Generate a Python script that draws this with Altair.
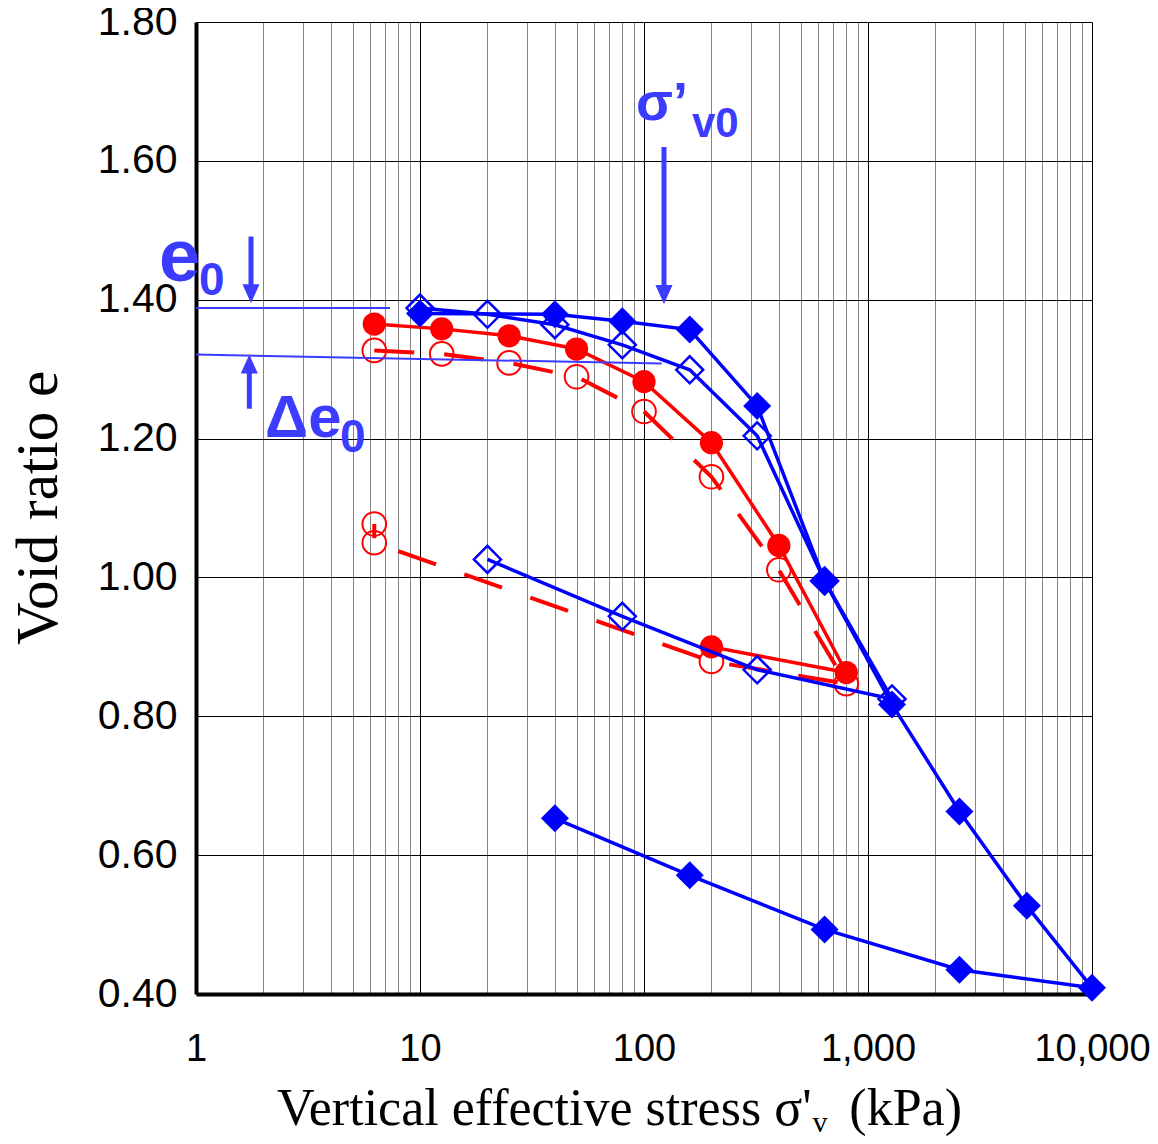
import altair as alt
import pandas as pd

# ---- data ----
# blue filled diamonds (loading then unloading)
sig_fd = [10, 40, 80, 160, 320, 640, 1280, 2560, 5120, 10000, 2560, 640, 160, 40]
e_fd = [1.380, 1.379, 1.369, 1.357, 1.247, 0.995, 0.817, 0.663, 0.527, 0.409, 0.435, 0.493, 0.571, 0.653]
# blue open diamonds
sig_od = [10, 20, 40, 80, 160, 320, 640, 1280, 320, 80, 20]
e_od = [1.388, 1.379, 1.364, 1.335, 1.299, 1.204, 0.995, 0.825, 0.867, 0.944, 1.026]
# red filled circles
sig_fc = [6.25, 12.5, 25, 50, 100, 200, 400, 800, 200]
e_fc = [1.365, 1.358, 1.348, 1.329, 1.282, 1.194, 1.046, 0.863, 0.900]
# red open circles (dashed)
sig_oc = [6.25, 12.5, 25, 50, 100, 200, 400, 800, 200, 6.25, 6.25]
e_oc = [1.327, 1.322, 1.309, 1.289, 1.239, 1.145, 1.011, 0.847, 0.879, 1.050, 1.077]

# axis ticks
x_ticks = [m * d for d in [1, 10, 100, 1000] for m in range(1, 10)] + [10000]
x_major = [1, 10, 100, 1000, 10000]
y_ticks = [0.40, 0.60, 0.80, 1.00, 1.20, 1.40, 1.60, 1.80]

# annotation geometry (data coordinates)
e0_line_s = [1, 7.35]
e0_line_e = [1.388, 1.388]
de0_line_s = [1, 120]
de0_line_e = [1.321, 1.308]
arrow_down_s = [1.76, 122.8]          # e0 arrow, sigma'v0 arrow
arrow_down_top = [1.491, 1.620]
arrow_down_tip = [1.395, 1.394]
arrow_up_s = [1.73]                   # delta e0 arrow
arrow_up_bottom = [1.243]
arrow_up_tip = [1.321]

BLUE = "#0000ff"
RED = "#ff0000"
ANN = "#3c3cff"


def frame(s, e, name):
    return pd.DataFrame({"s": s, "e": e, "i": list(range(len(s))), "g": name})


df_fd = frame(sig_fd, e_fd, "fd")
df_od = frame(sig_od, e_od, "od")
df_fc = frame(sig_fc, e_fc, "fc")
df_oc = frame(sig_oc, e_oc, "oc")

xscale = alt.Scale(type="log", domain=[1, 10000], nice=False)
yscale = alt.Scale(domain=[0.4, 1.8], nice=False, zero=False)

major_test = "indexof([1,10,100,1000,10000], datum.value) >= 0"
xaxis = alt.Axis(
    values=x_ticks, grid=True,
    gridColor={"condition": {"test": major_test, "value": "#000000"}, "value": "#858585"},
    gridWidth=1, domain=True, domainColor="#000000", domainWidth=4,
    ticks=False, tickSize=0,
    labelExpr=major_test + " ? format(datum.value, ',') : ''",
    labelFont="Liberation Sans", labelFontSize=38, labelColor="#000000",
    labelPadding=36, labelFlush=False, labelOverlap=False, title="",
)
yaxis = alt.Axis(
    values=y_ticks, format=".2f", grid=True, gridColor="#000000", gridWidth=1,
    domain=True, domainColor="#000000", domainWidth=4, ticks=False, tickSize=0,
    labelFont="Liberation Sans", labelFontSize=41, labelColor="#000000",
    labelPadding=19, labelFlush=False, labelOverlap=False, title="",
)


def X(f="s"):
    return alt.X(f, type="quantitative", scale=xscale, axis=xaxis)


def Y(f="e"):
    return alt.Y(f, type="quantitative", scale=yscale, axis=yaxis)


layers = []
# red open circles, dashed line
layers.append(alt.Chart(df_oc).mark_line(color=RED, strokeWidth=4, strokeDash=[40, 30])
              .encode(x=X(), y=Y(), order="i:Q"))
layers.append(alt.Chart(df_oc).mark_point(shape="circle", filled=False, size=560, strokeWidth=2,
                                          color=RED, opacity=1).encode(x=X(), y=Y()))
# red filled circles
layers.append(alt.Chart(df_fc).mark_line(color=RED, strokeWidth=3.5).encode(x=X(), y=Y(), order="i:Q"))
layers.append(alt.Chart(df_fc).mark_point(shape="circle", filled=True, size=540, color=RED, opacity=1)
              .encode(x=X(), y=Y()))
# blue open diamonds
layers.append(alt.Chart(df_od).mark_line(color=BLUE, strokeWidth=3.5).encode(x=X(), y=Y(), order="i:Q"))
layers.append(alt.Chart(df_od).mark_point(shape="diamond", filled=False, size=729, strokeWidth=2.5,
                                          color=BLUE, opacity=1).encode(x=X(), y=Y()))
# blue filled diamonds
layers.append(alt.Chart(df_fd).mark_line(color=BLUE, strokeWidth=3.5).encode(x=X(), y=Y(), order="i:Q"))
layers.append(alt.Chart(df_fd).mark_point(shape="diamond", filled=True, size=784, color=BLUE, opacity=1)
              .encode(x=X(), y=Y()))

# thin annotation lines
thin = pd.concat([
    pd.DataFrame({"s": e0_line_s, "e": e0_line_e, "k": "a"}),
    pd.DataFrame({"s": de0_line_s, "e": de0_line_e, "k": "b"}),
])
layers.append(alt.Chart(thin).mark_line(color=ANN, strokeWidth=2).encode(x=X(), y=Y(), detail="k:N"))

# arrow shafts
shafts = pd.DataFrame({
    "s": arrow_down_s + arrow_up_s,
    "e1": arrow_down_top + arrow_up_bottom,
    "e2": [t + 0.015 for t in arrow_down_tip] + [t - 0.015 for t in arrow_up_tip],
})
layers.append(alt.Chart(shafts).mark_rule(color=ANN, strokeWidth=5)
              .encode(x=X(), y=Y("e1"), y2="e2:Q"))
# arrow heads
heads_down = pd.DataFrame({"s": arrow_down_s, "e": arrow_down_tip})
heads_up = pd.DataFrame({"s": arrow_up_s, "e": arrow_up_tip})
layers.append(alt.Chart(heads_down).mark_point(shape="M-0.9,-1L0.9,-1L0,1Z", filled=True, size=361,
                                               color=ANN, opacity=1, yOffset=-9.5)
              .encode(x=X(), y=Y()))
layers.append(alt.Chart(heads_up).mark_point(shape="M-0.9,1L0.9,1L0,-1Z", filled=True, size=361,
                                             color=ANN, opacity=1, yOffset=9.5)
              .encode(x=X(), y=Y()))


def label(text, px, py, size, font="Liberation Sans", weight="bold", color=ANN, align="left", angle=0):
    kw = dict(text=text, font=font, fontSize=size, fontWeight=weight, color=color,
              align=align, baseline="alphabetic")
    if angle:
        kw["angle"] = angle
        kw["baseline"] = "middle"
    return alt.Chart(pd.DataFrame({"t": [text]})).mark_text(**kw).encode(
        x=alt.value(px), y=alt.value(py))


# plot origin is at page (196, 22)
layers.append(label("e", -37, 259, 74))
layers.append(label("0", 3, 273, 46))
layers.append(label("Δe", 69, 415, 60))
layers.append(label("0", 144, 430, 46))
layers.append(label("σ’", 440, 98, 54))
layers.append(label("v0", 496, 115, 42))

# axis titles
layers.append(label("Vertical effective stress σ'", 81, 1103, 52, font="Liberation Serif",
                    weight="normal", color="#000000"))
layers.append(label("v", 624, 1110, 30, font="Liberation Serif", weight="normal",
                    color="#000000", align="center"))
layers.append(label("(kPa)", 766, 1103, 52, font="Liberation Serif", weight="normal",
                    color="#000000", align="right"))
layers.append(label("Void ratio e", -157, 486, 59, font="Liberation Serif", weight="normal",
                    color="#000000", align="center", angle=270))

chart = alt.layer(*layers).properties(
    width=896, height=972,
    padding={"left": 188, "top": 14, "right": 58, "bottom": 142},
    autosize=alt.AutoSizeParams(type="none"),
    background="white",
).configure_view(stroke=None)

chart.save("out.html", embed_options={"renderer": "svg", "actions": False})
